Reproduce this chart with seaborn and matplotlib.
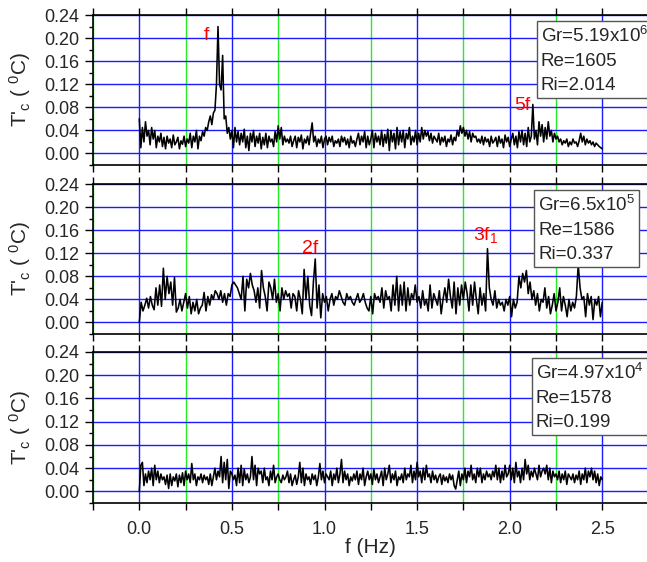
import numpy as np
import pandas as pd
import matplotlib
matplotlib.use("Agg")
import matplotlib.pyplot as plt
from matplotlib.ticker import MultipleLocator, FormatStrFormatter
import seaborn as sns

# ---------------- data ----------------
tc_top = [
    0.06, 0.01, 0.045, 0.02, 0.055, 0.03, 0.04, 0.015, 0.045, 0.025,
    0.04, 0.01, 0.03, 0.02, 0.035, 0.012, 0.028, 0.008, 0.03, 0.018,
    0.025, 0.01, 0.032, 0.015, 0.02, 0.028, 0.008, 0.022, 0.016, 0.03,
    0.012, 0.025, 0.018, 0.035, 0.01, 0.03, 0.02, 0.04, 0.008, 0.03,
    0.022, 0.038, 0.03, 0.045, 0.04, 0.055, 0.065, 0.05, 0.07, 0.075,
    0.12, 0.22, 0.12, 0.11, 0.17, 0.06, 0.065, 0.035, 0.045, 0.025,
    0.04, 0.01, 0.045, 0.02, 0.038, 0.015, 0.035, 0.02, 0.042, 0.01,
    0.03, 0.005, 0.035, 0.02, 0.04, 0.012, 0.03, 0.018, 0.035, 0.008,
    0.028, 0.015, 0.035, 0.01, 0.03, 0.02, 0.025, 0.012, 0.038, 0.02,
    0.048, 0.025, 0.045, 0.015, 0.03, 0.02, 0.025, 0.018, 0.03, 0.012,
    0.022, 0.03, 0.01, 0.028, 0.02, 0.032, 0.008, 0.025, 0.018, 0.03,
    0.015, 0.035, 0.053, 0.02, 0.03, 0.012, 0.025, 0.018, 0.03, 0.01,
    0.025, 0.03, 0.015, 0.028, 0.02, 0.03, 0.012, 0.022, 0.018, 0.025,
    0.012, 0.03, 0.02, 0.028, 0.015, 0.025, 0.01, 0.03, 0.018, 0.022,
    0.012, 0.025, 0.035, 0.015, 0.03, 0.02, 0.038, 0.01, 0.03, 0.015,
    0.025, 0.04, 0.01, 0.035, 0.02, 0.03, 0.015, 0.04, 0.012, 0.033,
    0.018, 0.042, 0.005, 0.04, 0.02, 0.035, 0.008, 0.045, 0.015, 0.038,
    0.02, 0.04, 0.01, 0.035, 0.025, 0.045, 0.015, 0.03, 0.02, 0.04,
    0.015, 0.035, 0.02, 0.045, 0.025, 0.04, 0.03, 0.038, 0.022, 0.035,
    0.018, 0.03, 0.025, 0.02, 0.035, 0.015, 0.028, 0.02, 0.03, 0.012,
    0.025, 0.02, 0.032, 0.015, 0.028, 0.022, 0.04, 0.03, 0.048, 0.035,
    0.045, 0.03, 0.04, 0.025, 0.038, 0.02, 0.035, 0.028, 0.03, 0.02,
    0.025, 0.018, 0.03, 0.015, 0.028, 0.02, 0.025, 0.012, 0.03, 0.018,
    0.022, 0.028, 0.012, 0.03, 0.018, 0.025, 0.01, 0.032, 0.02, 0.028,
    0.012, 0.025, 0.035, 0.015, 0.03, 0.01, 0.038, 0.02, 0.04, 0.015,
    0.035, 0.012, 0.045, 0.02, 0.03, 0.085, 0.025, 0.04, 0.015, 0.055,
    0.03, 0.05, 0.02, 0.045, 0.025, 0.055, 0.03, 0.04, 0.02, 0.035,
    0.025, 0.03, 0.02, 0.025, 0.015, 0.022, 0.018, 0.025, 0.012, 0.02,
    0.015, 0.025, 0.018, 0.02, 0.012, 0.022, 0.035, 0.02, 0.03, 0.015,
    0.025, 0.018, 0.022, 0.015, 0.02, 0.012, 0.018, 0.015, 0.012, 0.01, 0.008,
]

tc_mid = [
    0.0, 0.035, 0.02, 0.03, 0.042, 0.025, 0.045, 0.03, 0.022, 0.06,
    0.03, 0.065, 0.028, 0.094, 0.04, 0.08, 0.05, 0.07, 0.03, 0.078,
    0.018, 0.025, 0.04, 0.02, 0.035, 0.05, 0.025, 0.045, 0.015, 0.035,
    0.02, 0.04, 0.015, 0.025, 0.03, 0.052, 0.02, 0.045, 0.03, 0.048,
    0.04, 0.055, 0.05, 0.04, 0.055, 0.035, 0.05, 0.03, 0.05, 0.045,
    0.065, 0.07, 0.065, 0.06, 0.05, 0.04, 0.08, 0.02, 0.075, 0.06,
    0.085, 0.065, 0.055, 0.035, 0.06, 0.025, 0.09, 0.06, 0.045, 0.02,
    0.07, 0.06, 0.04, 0.075, 0.035, 0.05, 0.02, 0.06, 0.04, 0.055,
    0.045, 0.05, 0.025, 0.05, 0.045, 0.02, 0.055, 0.04, 0.015, 0.092,
    0.04, 0.08, 0.03, 0.012, 0.07, 0.11, 0.025, 0.065, 0.008, 0.05,
    0.035, 0.045, 0.02, 0.04, 0.05, 0.03, 0.045, 0.04, 0.055, 0.045,
    0.035, 0.03, 0.05, 0.04, 0.045, 0.035, 0.03, 0.04, 0.05, 0.035,
    0.04, 0.05, 0.035, 0.025, 0.02, 0.045, 0.015, 0.05, 0.04, 0.045,
    0.035, 0.06, 0.025, 0.055, 0.04, 0.045, 0.02, 0.065, 0.03, 0.08,
    0.02, 0.065, 0.03, 0.07, 0.02, 0.06, 0.03, 0.05, 0.04, 0.065,
    0.035, 0.045, 0.025, 0.055, 0.03, 0.04, 0.02, 0.065, 0.025, 0.05,
    0.04, 0.03, 0.055, 0.015, 0.04, 0.06, 0.035, 0.075, 0.045, 0.025,
    0.07, 0.015, 0.06, 0.03, 0.065, 0.04, 0.07, 0.05, 0.02, 0.065,
    0.03, 0.07, 0.04, 0.015, 0.06, 0.03, 0.05, 0.02, 0.128, 0.06,
    0.04, 0.03, 0.055, 0.025, 0.04, 0.03, 0.035, 0.02, 0.04, 0.03,
    0.045, 0.01, 0.04, 0.025, 0.035, 0.08, 0.06, 0.085, 0.07, 0.09,
    0.05, 0.07, 0.04, 0.055, 0.03, 0.05, 0.02, 0.04, 0.035, 0.06,
    0.025, 0.045, 0.015, 0.03, 0.05, 0.02, 0.035, 0.06, 0.02, 0.045,
    0.03, 0.01, 0.04, 0.02, 0.035, 0.025, 0.045, 0.1, 0.06, 0.04,
    0.045, 0.01, 0.05, 0.03, 0.045, 0.005, 0.04, 0.03, 0.045, 0.01,
    0.035,
]

tc_bot = [
    0.0, 0.045, 0.05, 0.01, 0.03, 0.015, 0.035, 0.02, 0.04, 0.01,
    0.045, 0.02, 0.035, 0.015, 0.03, 0.02, 0.025, 0.012, 0.028, 0.005,
    0.03, 0.01, 0.025, 0.018, 0.03, 0.008, 0.028, 0.015, 0.032, 0.01,
    0.035, 0.02, 0.03, 0.015, 0.048, 0.02, 0.03, 0.01, 0.025, 0.02,
    0.03, 0.015, 0.028, 0.02, 0.025, 0.012, 0.03, 0.01, 0.025, 0.04,
    0.02, 0.035, 0.025, 0.06, 0.015, 0.05, 0.02, 0.055, 0.005, 0.035,
    0.03, 0.02, 0.028, 0.01, 0.04, 0.015, 0.045, 0.01, 0.038, 0.02,
    0.03, 0.015, 0.025, 0.06, 0.02, 0.045, 0.01, 0.04, 0.03, 0.035,
    0.015, 0.04, 0.02, 0.025, 0.01, 0.035, 0.02, 0.045, 0.015, 0.025,
    0.03, 0.02, 0.015, 0.028, 0.02, 0.025, 0.035, 0.015, 0.03, 0.01,
    0.02, 0.028, 0.012, 0.025, 0.05, 0.015, 0.04, 0.01, 0.03, 0.02,
    0.025, 0.012, 0.03, 0.02, 0.028, 0.01, 0.025, 0.048, 0.02, 0.035,
    0.015, 0.03, 0.025, 0.02, 0.035, 0.01, 0.03, 0.02, 0.04, 0.015,
    0.03, 0.055, 0.015, 0.035, 0.02, 0.03, 0.01, 0.025, 0.018, 0.03,
    0.02, 0.035, 0.012, 0.03, 0.02, 0.04, 0.01, 0.025, 0.035, 0.02,
    0.03, 0.012, 0.038, 0.02, 0.03, 0.015, 0.025, 0.035, 0.01, 0.04,
    0.02, 0.03, 0.045, 0.015, 0.03, 0.02, 0.035, 0.01, 0.025, 0.02,
    0.03, 0.015, 0.04, 0.02, 0.03, 0.025, 0.045, 0.015, 0.035, 0.02,
    0.05, 0.025, 0.035, 0.015, 0.04, 0.02, 0.045, 0.025, 0.03, 0.015,
    0.035, 0.02, 0.028, 0.015, 0.025, 0.03, 0.012, 0.028, 0.018, 0.025,
    0.015, 0.03, 0.02, 0.028, 0.01, 0.004, 0.02, 0.035, 0.01, 0.03,
    0.02, 0.04, 0.015, 0.035, 0.025, 0.045, 0.02, 0.03, 0.015, 0.04,
    0.025, 0.04, 0.015, 0.03, 0.02, 0.035, 0.025, 0.03, 0.02, 0.035,
    0.025, 0.045, 0.02, 0.04, 0.015, 0.035, 0.02, 0.045, 0.025, 0.03,
    0.045, 0.02, 0.04, 0.015, 0.05, 0.025, 0.035, 0.015, 0.04, 0.02,
    0.055, 0.03, 0.045, 0.02, 0.035, 0.025, 0.04, 0.03, 0.02, 0.045,
    0.025, 0.035, 0.04, 0.03, 0.045, 0.02, 0.04, 0.015, 0.035, 0.025,
    0.03, 0.02, 0.035, 0.015, 0.03, 0.02, 0.035, 0.012, 0.03, 0.025,
    0.02, 0.03, 0.015, 0.028, 0.02, 0.035, 0.012, 0.03, 0.02, 0.04,
    0.015, 0.035, 0.025, 0.04, 0.02, 0.035, 0.015, 0.03, 0.01, 0.025, 0.02,
]

series = [tc_top, tc_mid, tc_bot]
box_texts = [
    ["Gr=5.19x10$^{\\mathregular{6}}$", "Re=1605", "Ri=2.014"],
    ["Gr=6.5x10$^{\\mathregular{5}}$", "Re=1586", "Ri=0.337"],
    ["Gr=4.97x10$^{\\mathregular{4}}$", "Re=1578", "Ri=0.199"],
]
peak_labels = [
    [("f", 0.365, 0.205), ("5f", 2.07, 0.083)],
    [("2f", 0.92, 0.128), ("3f$_{\\mathregular{1}}$", 1.87, 0.152)],
    [],
]

# ---------------- style ----------------
sns.set_style("ticks")
plt.rcParams["font.family"] = ["Liberation Sans", "DejaVu Sans"]
plt.rcParams["mathtext.default"] = "regular"

W, H = 647, 562
fig = plt.figure(figsize=(W / 100, H / 100), dpi=100)

left_px, right_px = 93, 648.6
panel_px = [(15, 165), (184, 334), (352, 503)]
box_x = [0.806, 0.801, 0.797]

ylabel = "T'$_{\\mathregular{c}}$ ( $^{\\mathregular{0}}$C)"

for k, (top, bot) in enumerate(panel_px):
    ax = fig.add_axes([left_px / W, 1 - bot / H, (right_px - left_px) / W, (bot - top) / H])
    vals = series[k]
    df = pd.DataFrame({"f": np.linspace(0, 2.5, len(vals)), "T": vals})
    ax.set_xlim(-0.25, 2.75)
    ax.set_ylim(-0.02, 0.24)

    ax.xaxis.set_major_locator(MultipleLocator(0.5))
    ax.xaxis.set_minor_locator(MultipleLocator(0.25))
    ax.yaxis.set_major_locator(MultipleLocator(0.04))
    ax.yaxis.set_minor_locator(MultipleLocator(0.02))
    ax.yaxis.set_major_formatter(FormatStrFormatter("%.2f"))
    ax.xaxis.set_major_formatter(FormatStrFormatter("%.1f"))

    ax.grid(False)
    ax.xaxis.grid(True, which="major", color="#1a1aff", linewidth=1.0)
    ax.xaxis.grid(True, which="minor", color="#22ee22", linewidth=1.0)
    ax.yaxis.grid(True, which="major", color="#1a1aff", linewidth=1.0)
    ax.set_axisbelow(True)

    sns.lineplot(data=df, x="f", y="T", ax=ax, color="black", linewidth=1.15,
                 estimator=None, sort=False, zorder=3)

    for sp in ax.spines.values():
        sp.set_color("black")
        sp.set_linewidth(1.2)
        sp.set_visible(True)

    ax.tick_params(axis="x", which="both", direction="out", top=True, bottom=True,
                   length=5, width=1.0, color="black", labelsize=13, pad=8,
                   labelbottom=(k == 2))
    ax.tick_params(axis="y", which="major", direction="out", left=True, right=False,
                   length=6, width=1.0, color="black", labelsize=13, pad=4)
    ax.tick_params(axis="y", which="minor", direction="out", left=True, right=False,
                   length=3, width=1.0, color="black")

    ax.set_ylabel(ylabel, fontsize=15)
    ax.yaxis.set_label_coords(-0.108, 0.5)
    if k == 2:
        ax.set_xlabel("f (Hz)", fontsize=15, labelpad=0)
    else:
        ax.set_xlabel("")

    ax.text(box_x[k], 0.93, "\n".join(box_texts[k]), transform=ax.transAxes,
            ha="left", va="top", fontsize=13.5, linespacing=1.55, zorder=5,
            bbox=dict(boxstyle="square,pad=0.22", fc="white", ec="#555555", lw=1.0))

    for lab, xx, yy in peak_labels[k]:
        ax.text(xx, yy, lab, color="red", fontsize=14, ha="center", va="center", zorder=6)

fig.savefig("out.png", dpi=100)
